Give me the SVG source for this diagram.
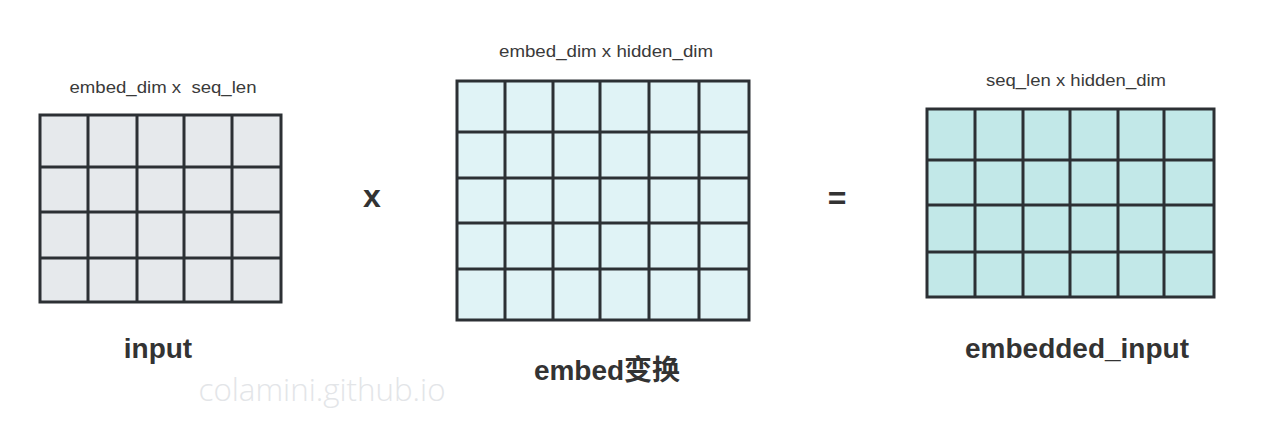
<svg xmlns="http://www.w3.org/2000/svg" width="1266" height="432" viewBox="0 0 1266 432">
<style>
.grid{stroke:#2c3034;stroke-width:3;fill:none;stroke-linecap:square;stroke-linejoin:miter}
.dim{font-family:"Liberation Sans",Arial,sans-serif;font-size:16px;fill:#3a3a3a;text-anchor:middle;white-space:pre}
.title{font-family:"Liberation Sans","Noto Sans CJK SC",sans-serif;font-size:28px;font-weight:bold;fill:#333333;text-anchor:middle}
.op{font-family:"Liberation Sans",Arial,sans-serif;font-size:32px;font-weight:bold;fill:#333333;text-anchor:middle}
</style>
<rect width="1266" height="432" fill="#ffffff"/>
<g id="input-matrix">
<rect x="40" y="115" width="241" height="187" fill="#e6e9ec"/>
<path class="grid" d="M40 115H281V302H40Z M88 115V302 M137 115V302 M184 115V302 M232 115V302 M40 167H281 M40 212H281 M40 258H281"/>
<text class="dim" x="163" y="93" textLength="187" lengthAdjust="spacingAndGlyphs" xml:space="preserve">embed_dim x  seq_len</text>
<text class="title" x="158" y="358">input</text>
</g>
<g id="embed-matrix">
<rect x="457" y="81" width="292" height="239" fill="#e0f3f6"/>
<path class="grid" d="M457 81H749V320H457Z M505 81V320 M553 81V320 M600 81V320 M649 81V320 M699 81V320 M457 132H749 M457 178H749 M457 223H749 M457 269H749"/>
<text class="dim" x="606" y="57" textLength="214" lengthAdjust="spacingAndGlyphs">embed_dim x hidden_dim</text>
<text class="title" x="607" y="380">embed变换</text>
</g>
<g id="output-matrix">
<rect x="927" y="109" width="287" height="188" fill="#c2e8e8"/>
<path class="grid" d="M927 109H1214V297H927Z M975 109V297 M1023 109V297 M1070 109V297 M1118 109V297 M1164 109V297 M927 160H1214 M927 205H1214 M927 252H1214"/>
<text class="dim" x="1076" y="86" textLength="180" lengthAdjust="spacingAndGlyphs">seq_len x hidden_dim</text>
<text class="title" x="1077" y="358">embedded_input</text>
</g>
<g id="operators">
<text class="op" x="372" y="207">x</text>
<text class="op" x="837" y="209">=</text>
</g>
<g id="connectors"></g>
<text x="322" y="401" font-family="'Open Sans','Liberation Sans',sans-serif" font-weight="300" font-size="32" fill="#e3e5e8" text-anchor="middle" textLength="247" lengthAdjust="spacingAndGlyphs">colamini.github.io</text>
</svg>
